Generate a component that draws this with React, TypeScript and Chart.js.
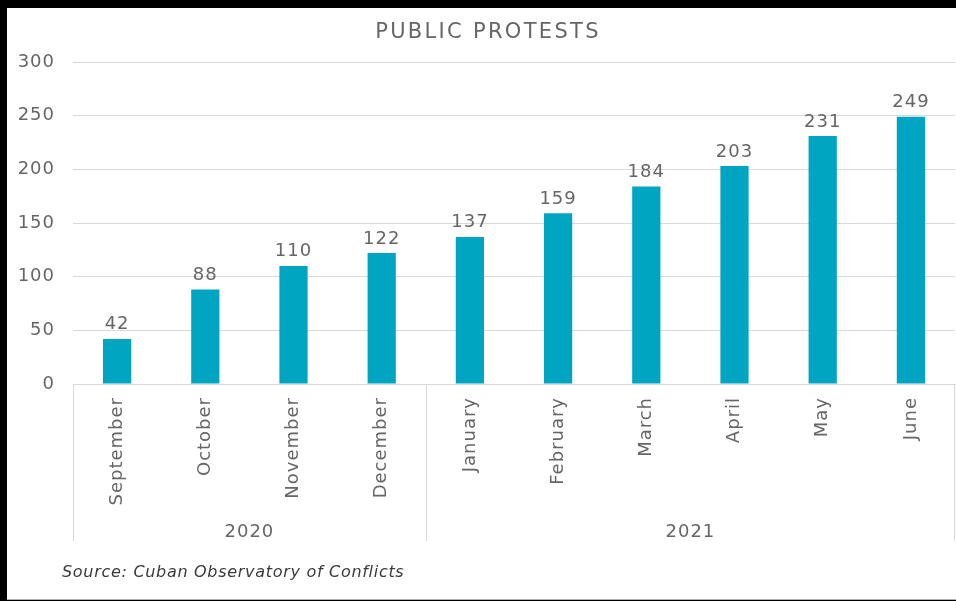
import React, { useEffect, useRef } from "react";
import { Chart, registerables } from "chart.js";

Chart.register(...registerables);

const months = ["September", "October", "November", "December", "January", "February", "March", "April", "May", "June"];
const protests = [42, 88, 110, 122, 137, 159, 184, 203, 231, 249];
const years = ["2020", "2021"];
const monthsPerYear = [4, 6];
const yMin = 0;
const yMax = 300;
const yStep = 50;
const titleText = "PUBLIC PROTESTS";
const sourceText = "Source: Cuban Observatory of Conflicts";

const FONT = "'DejaVu Sans', sans-serif";
const TEXT = "#666666";
const GRID = "#d9d9d9";

const W = 956;
const H = 601;

const extrasPlugin = {
  id: "extras",
  beforeDraw(chart: any) {
    chart.ctx.letterSpacing = "1px";
  },
  afterDraw(chart: any) {
    const ctx = chart.ctx;
    const area = chart.chartArea;
    const xs = chart.scales.x;
    ctx.save();

    // title
    ctx.letterSpacing = "2.3px";
    ctx.font = `21px ${FONT}`;
    ctx.fillStyle = TEXT;
    ctx.textAlign = "center";
    ctx.textBaseline = "alphabetic";
    ctx.fillText(titleText, 488, 38);

    // data labels
    ctx.letterSpacing = "1px";
    ctx.font = `18px ${FONT}`;
    const meta = chart.getDatasetMeta(0);
    meta.data.forEach((bar: any, i: number) => {
      ctx.fillText(String(protests[i]), bar.x, bar.y - 9.5);
    });

    // group separators and year labels
    const boundary = (idx: number) => {
      if (idx <= 0) return area.left;
      if (idx >= months.length) return area.right;
      return (xs.getPixelForValue(idx - 1) + xs.getPixelForValue(idx)) / 2;
    };
    ctx.strokeStyle = GRID;
    ctx.lineWidth = 1;
    let start = 0;
    const lines: number[] = [boundary(0)];
    years.forEach((yr, g) => {
      const end = start + monthsPerYear[g];
      const x0 = boundary(start);
      const x1 = boundary(end);
      lines.push(x1);
      ctx.fillText(yr, (x0 + x1) / 2, 537);
      start = end;
    });
    lines.forEach((lx) => {
      const px = Math.min(Math.round(lx) + 0.5, W - 1.5);
      ctx.beginPath();
      ctx.moveTo(px, area.bottom);
      ctx.lineTo(px, 541);
      ctx.stroke();
    });

    // source
    ctx.letterSpacing = "0.7px";
    ctx.font = `italic 16px ${FONT}`;
    ctx.fillStyle = "#3a3a3a";
    ctx.textAlign = "left";
    ctx.fillText(sourceText, 62, 577);

    ctx.restore();
  },
};

export default function App() {
  const ref = useRef<HTMLCanvasElement | null>(null);

  useEffect(() => {
    if (!ref.current) return;
    const chart = new Chart(ref.current, {
      type: "bar",
      data: {
        labels: months,
        datasets: [
          {
            data: protests,
            backgroundColor: "#00a6c1",
            borderWidth: 0,
            barPercentage: 0.32,
            categoryPercentage: 1,
          },
        ],
      },
      options: {
        responsive: false,
        animation: false,
        layout: { padding: { top: 62, left: 0, right: 1, bottom: 0 } },
        plugins: {
          legend: { display: false },
          title: { display: false },
          tooltip: { enabled: false },
        },
        scales: {
          x: {
            grid: { display: false, drawTicks: false },
            border: { display: true, color: GRID, width: 1 },
            ticks: {
              color: TEXT,
              font: { family: FONT, size: 18 },
              minRotation: 90,
              maxRotation: 90,
              autoSkip: false,
              padding: 13,
            },
            afterFit(scale: any) {
              scale.height = 217;
            },
          },
          y: {
            min: yMin,
            max: yMax,
            grid: { color: GRID, drawTicks: false, lineWidth: 1 },
            border: { display: false },
            ticks: {
              stepSize: yStep,
              color: TEXT,
              font: { family: FONT, size: 18 },
              padding: 18,
            },
            afterFit(scale: any) {
              scale.width = 73;
            },
          },
        },
      },
      plugins: [extrasPlugin],
    });
    return () => chart.destroy();
  }, []);

  return (
    <div style={{ position: "fixed", left: 0, top: 0, width: W, height: H, background: "#000", overflow: "hidden" }}>
      <div
        style={{
          position: "absolute",
          left: 7,
          top: 8,
          width: W - 7,
          height: 591,
          background: "#fff",
          borderBottom: "1px solid #b0b0b0",
        }}
      />
      <canvas ref={ref} width={W} height={H} style={{ position: "absolute", left: 0, top: 0, width: W, height: H }} />
    </div>
  );
}
